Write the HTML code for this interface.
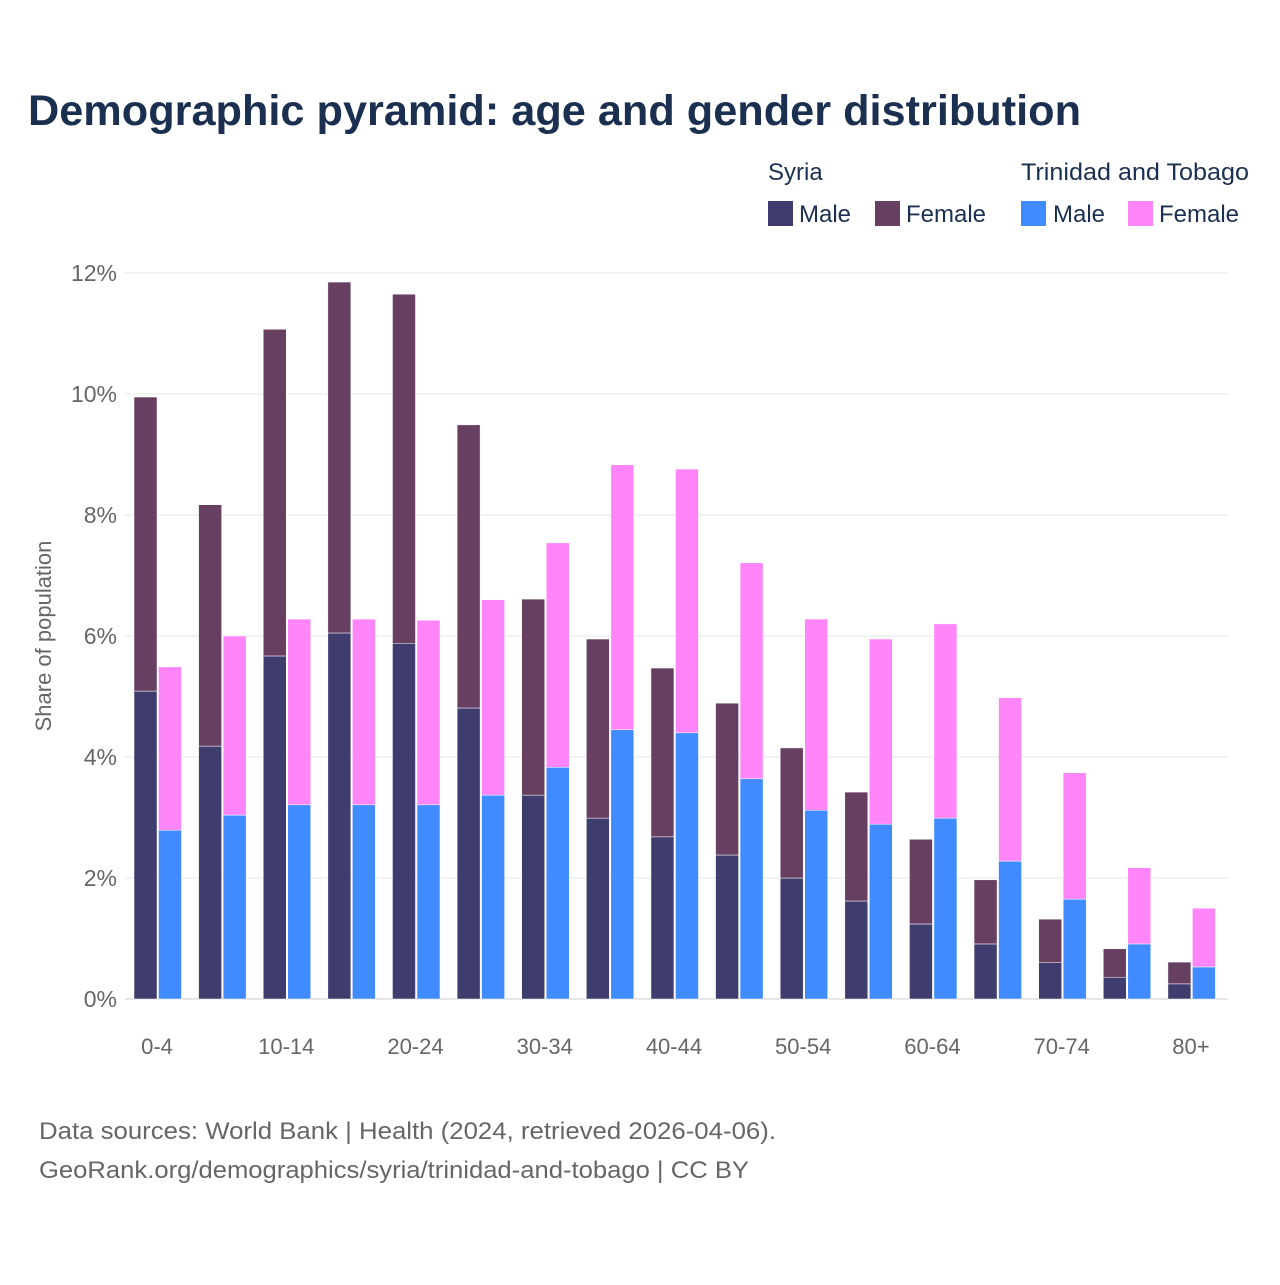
<!DOCTYPE html>
<html><head><meta charset="utf-8"><style>
body{margin:0;background:#fff;font-family:"Liberation Sans",sans-serif}
svg text{font-family:"Liberation Sans",sans-serif}
</style></head><body>
<svg id="chart" width="1280" height="1280" xmlns="http://www.w3.org/2000/svg">
<text x="28" y="125" font-size="43" font-weight="bold" fill="#1b3050" textLength="1053" lengthAdjust="spacingAndGlyphs">Demographic pyramid: age and gender distribution</text>
<g font-size="24" fill="#1b3050">
<text x="768" y="180" fill="#1b3050">Syria</text>
<text x="1021" y="180" fill="#1b3050" textLength="228" lengthAdjust="spacingAndGlyphs">Trinidad and Tobago</text>
<rect x="768" y="201" width="25" height="25" fill="#3f3d6e"/>
<text x="799" y="222" fill="#1b3050">Male</text>
<rect x="875" y="201" width="25" height="25" fill="#673f61"/>
<text x="906" y="222" fill="#1b3050">Female</text>
<rect x="1021" y="201" width="25" height="25" fill="#3f8bff"/>
<text x="1053" y="222" fill="#1b3050">Male</text>
<rect x="1128" y="201" width="25" height="25" fill="#ff85f8"/>
<text x="1159" y="222" fill="#1b3050">Female</text>
</g>
<text transform="translate(51,636) rotate(-90)" text-anchor="middle" font-size="22" fill="#666">Share of population</text>
<g id="grid"></g><g id="bars"></g><g id="xlabels"></g>
<text x="39" y="1139" font-size="24" fill="#666" textLength="737" lengthAdjust="spacingAndGlyphs">Data sources: World Bank | Health (2024, retrieved 2026-04-06).</text>
<text x="39" y="1178" font-size="24" fill="#666" textLength="710" lengthAdjust="spacingAndGlyphs">GeoRank.org/demographics/syria/trinidad-and-tobago | CC BY</text>
</svg>
<script>
const categories=["0-4","5-9","10-14","15-19","20-24","25-29","30-34","35-39","40-44","45-49","50-54","55-59","60-64","65-69","70-74","75-79","80+"];
const syriaMale=[5.09,4.18,5.67,6.05,5.88,4.81,3.37,2.99,2.68,2.38,2.0,1.62,1.24,0.91,0.6,0.36,0.25];
const syriaFemale=[4.86,3.99,5.40,5.80,5.77,4.68,3.24,2.96,2.79,2.51,2.15,1.80,1.40,1.06,0.72,0.47,0.36];
const ttMale=[2.79,3.04,3.21,3.21,3.21,3.37,3.83,4.45,4.40,3.64,3.12,2.89,2.99,2.28,1.65,0.91,0.53];
const ttFemale=[2.70,2.96,3.07,3.07,3.05,3.23,3.71,4.38,4.36,3.57,3.16,3.06,3.21,2.70,2.09,1.26,0.97];
const yTicks=[0,2,4,6,8,10,12];
const NS="http://www.w3.org/2000/svg";
const y=v=>999-v*60.5;
const xc=i=>157+i*64.62;
function mk(tag,attrs,parent){const e=document.createElementNS(NS,tag);for(const k in attrs)e.setAttribute(k,attrs[k]);parent.appendChild(e);return e;}
const grid=document.getElementById('grid'),bars=document.getElementById('bars'),xl=document.getElementById('xlabels');
yTicks.forEach(t=>{
 const l=mk('line',{x1:125,x2:1228,y1:y(t),y2:y(t),stroke:t===0?'#ccc':'#e6e6e6','stroke-width':1},grid);
 
 
 const tx=mk('text',{x:117,y:y(t)+8,'text-anchor':'end','font-size':23,fill:'#666'},grid);
 tx.textContent=t+'%';
 
 
});
function bar(x,v0,v1,fill,name){
 const r=mk('rect',{x:x,y:y(v1),width:23,height:y(v0)-y(v1),fill:fill,stroke:'#fff','stroke-width':0.5},bars);
 
 
}
categories.forEach((c,i)=>{
 const cx=xc(i);
 bar(cx-23,0,syriaMale[i],'#3f3d6e','bar-syria-male-'+c);
 bar(cx-23,syriaMale[i],syriaMale[i]+syriaFemale[i],'#673f61','bar-syria-female-'+c);
 bar(cx+1.5,0,ttMale[i],'#3f8bff','bar-tt-male-'+c);
 bar(cx+1.5,ttMale[i],ttMale[i]+ttFemale[i],'#ff85f8','bar-tt-female-'+c);
 if(i%2===0){
  const t=mk('text',{x:cx,y:1054,'text-anchor':'middle','font-size':22,fill:'#666'},xl);
  t.textContent=c;
  
  
 }
});
</script>
</body></html>
